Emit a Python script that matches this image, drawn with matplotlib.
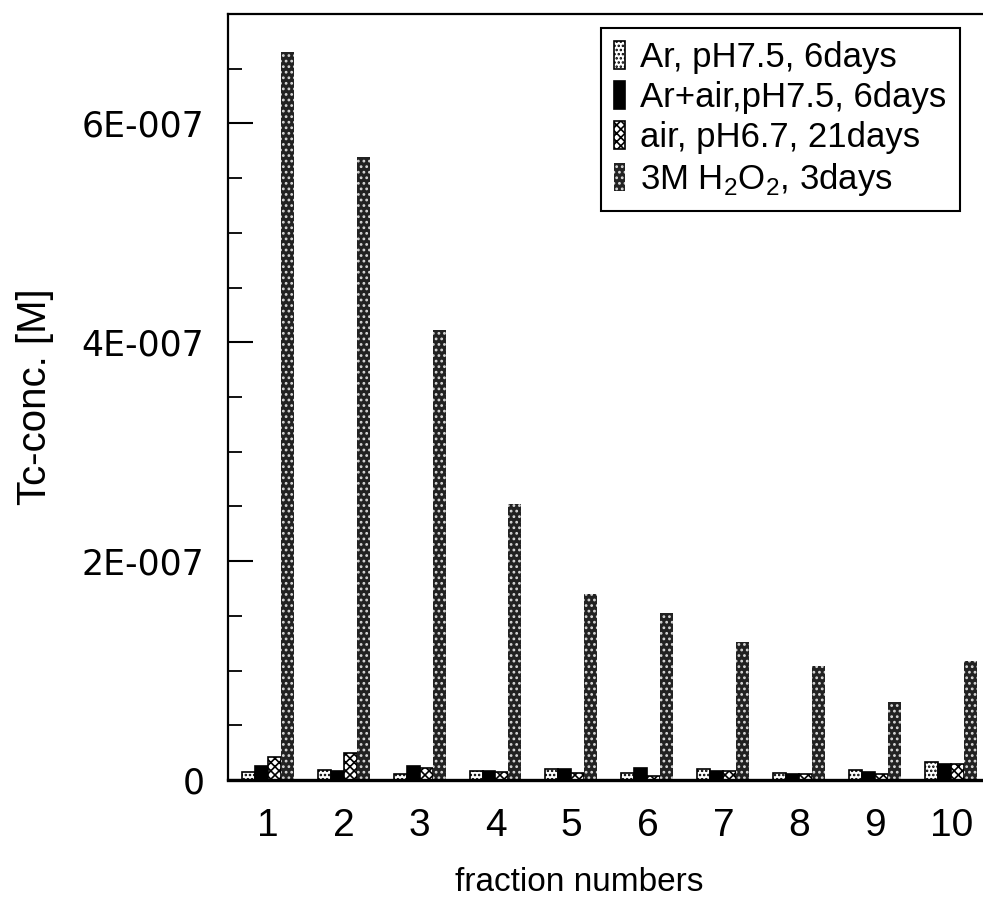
import matplotlib
matplotlib.use("Agg")
import matplotlib.pyplot as plt
import numpy as np
from matplotlib.ticker import MultipleLocator, FixedLocator, FixedFormatter

sans = ["Liberation Sans", "DejaVu Sans"]
plt.rcParams["hatch.linewidth"] = 1.2
plt.rcParams["mathtext.fontset"] = "custom"
plt.rcParams["mathtext.rm"] = "Liberation Sans"

fractions = ["1", "2", "3", "4", "5", "6", "7", "8", "9", "10"]
labels = ["Ar, pH7.5, 6days", "Ar+air,pH7.5, 6days",
          "air, pH6.7, 21days", "3M H$_2$O$_2$, 3days"]
ar = [7.6e-9, 9.0e-9, 5.0e-9, 8.0e-9, 10e-9, 6.0e-9, 10e-9, 6.0e-9, 9.5e-9, 16e-9]
ar_air = [12.8e-9, 8.5e-9, 13e-9, 8.0e-9, 10e-9, 11e-9, 8.0e-9, 5.0e-9, 7.5e-9, 15e-9]
air = [21e-9, 24.5e-9, 11e-9, 7.5e-9, 6.0e-9, 4.0e-9, 8.0e-9, 5.0e-9, 5.0e-9, 15e-9]
h2o2 = [6.65e-7, 5.69e-7, 4.11e-7, 2.52e-7, 1.70e-7, 1.53e-7, 1.26e-7, 1.04e-7, 0.71e-7, 1.09e-7]
ytick_vals = [0, 2e-7, 4e-7, 6e-7]
ytick_text = ["0", "2E-007", "4E-007", "6E-007"]

fig = plt.figure(figsize=(9.83, 9.02), dpi=100)
ax = fig.add_axes([0.232, 0.1353, 0.776, 0.8492])

x = np.arange(1, len(fractions) + 1)
w = 0.171
styles = [
    dict(facecolor="white", edgecolor="black", hatch="....", linewidth=1.2),
    dict(facecolor="black", edgecolor="black", linewidth=1.2),
    dict(facecolor="white", edgecolor="black", hatch="xxxx", linewidth=1.2),
    dict(facecolor="#222222", edgecolor="#d8d8d8", hatch="...", linewidth=0),
]
handles = []
for k, (vals, st) in enumerate(zip([ar, ar_air, air, h2o2], styles)):
    bars = ax.bar(x + (k - 1.5) * w, vals, width=w, label=labels[k], **st)
    handles.append(bars)

ax.set_xlim(0.48, 10.52)
ax.set_ylim(0, 7e-7)
ax.set_xticks(x)
ax.set_xticklabels(fractions, fontsize=28, family=sans)
ax.tick_params(axis="x", length=0, pad=20)
ax.yaxis.set_major_locator(FixedLocator(ytick_vals))
ax.yaxis.set_major_formatter(FixedFormatter(ytick_text))
ax.yaxis.set_minor_locator(MultipleLocator(0.5e-7))
ax.tick_params(axis="y", direction="in", length=18, width=1.5, pad=17,
               labelsize=25)
ax.tick_params(axis="y", which="minor", direction="in", length=10, width=1.3)
ax.spines["bottom"].set_linewidth(2.4)
ax.spines["left"].set_linewidth(1.6)
ax.spines["top"].set_linewidth(1.6)

ax.set_ylabel("Tc-conc. [M]", fontsize=29, family=sans, labelpad=20)
ax.set_xlabel("fraction numbers", fontsize=24, family=sans)
ax.xaxis.set_label_coords(0.461, -0.113)

leg = fig.legend(handles=handles, loc="upper left",
                 bbox_to_anchor=(601 / 983, 1 - 28 / 902),
                 prop={"family": sans, "size": 25},
                 handlelength=0.3, handleheight=0.85, handletextpad=0.45,
                 labelspacing=0.2, borderpad=0.38, borderaxespad=0,
                 fancybox=False, edgecolor="black", framealpha=1)
leg.get_frame().set_linewidth(1.5)

fig.savefig("out.png", dpi=100)
